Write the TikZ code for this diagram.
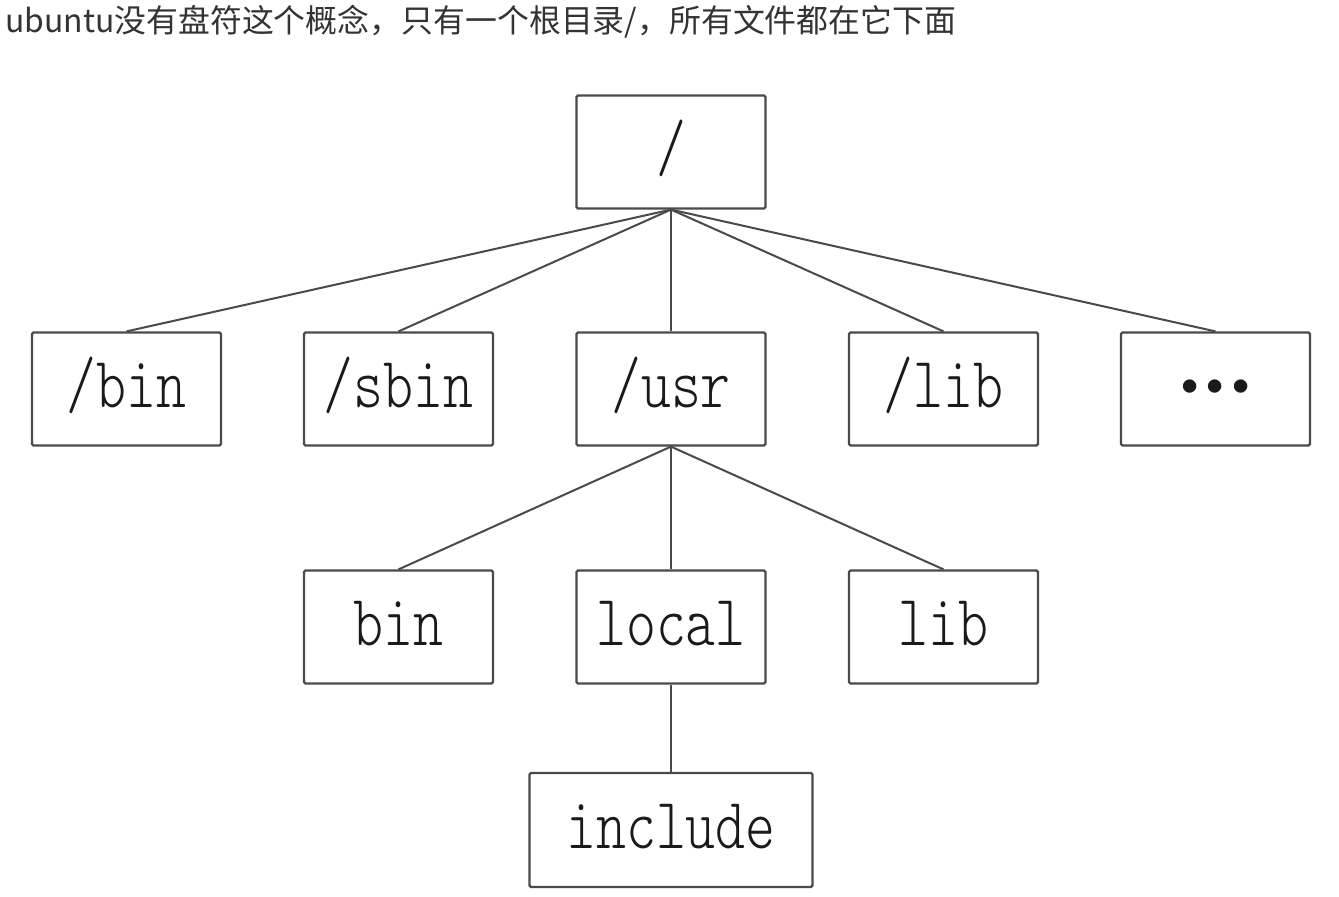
\documentclass[tikz,border=0pt]{standalone}
\usepackage{fontspec}
\usepackage{graphicx}
\newfontfamily\cjkfont{Noto Sans CJK SC}
\newfontfamily\monolight{Latin Modern Mono Light}
\definecolor{linecol}{HTML}{4A4A4A}
\definecolor{textcol}{HTML}{1A1A1A}
\definecolor{titlecol}{HTML}{333333}
\newcommand{\dirlbl}[1]{{\monolight\fontsize{57}{57}\selectfont\scalebox{1}[1.27]{#1}}}
\tikzset{
  dirbox/.style={draw=linecol, line width=2.2pt, rounded corners=1.5pt,
    minimum width=189pt, minimum height=113pt, inner sep=0pt,
    text=textcol, text height=40pt, text depth=4pt},
  dotbox/.style={dirbox, text height=27pt, text depth=0pt},
  link/.style={draw=linecol, line width=2pt}
}
\begin{document}
\begin{tikzpicture}[x=1pt, y=-1pt]
\useasboundingbox[fill=white] (0,0) rectangle (1339,897);
\node[anchor=base west, inner sep=0pt, text=titlecol, font=\cjkfont\fontsize{31.9}{32}\selectfont] (title) at (5,32) {ubuntu没有盘符这个概念，只有一个根目录/，所有文件都在它下面};
\node[dirbox] (root) at (671,152) {\dirlbl{/}};
\node[dirbox] (bin1) at (126.5,389) {\dirlbl{/bin}};
\node[dirbox] (sbin) at (398.5,389) {\dirlbl{/sbin}};
\node[dirbox] (usr) at (671,389) {\dirlbl{/usr}};
\node[dirbox] (lib1) at (943.5,389) {\dirlbl{/lib}};
\node[dotbox] (dots) at (1215.5,389) {{\fontsize{60}{60}\selectfont\textbullet\kern-17.5pt\textbullet\kern-17.5pt\textbullet}};
\node[dirbox] (bin2) at (398.5,627) {\dirlbl{bin}};
\node[dirbox] (local) at (671,627) {\dirlbl{local}};
\node[dirbox] (lib2) at (943.5,627) {\dirlbl{lib}};
\node[dirbox, minimum width=283pt, minimum height=114pt] (include) at (671,830) {\dirlbl{include}};
\foreach \t in {bin1,sbin,usr,lib1,dots}{
  \draw[link] (root.south) -- (\t.north);
}
\foreach \t in {bin2,local,lib2}{
  \draw[link] (usr.south) -- (\t.north);
}
\draw[link] (local.south) -- (include.north);
\end{tikzpicture}
\end{document}
